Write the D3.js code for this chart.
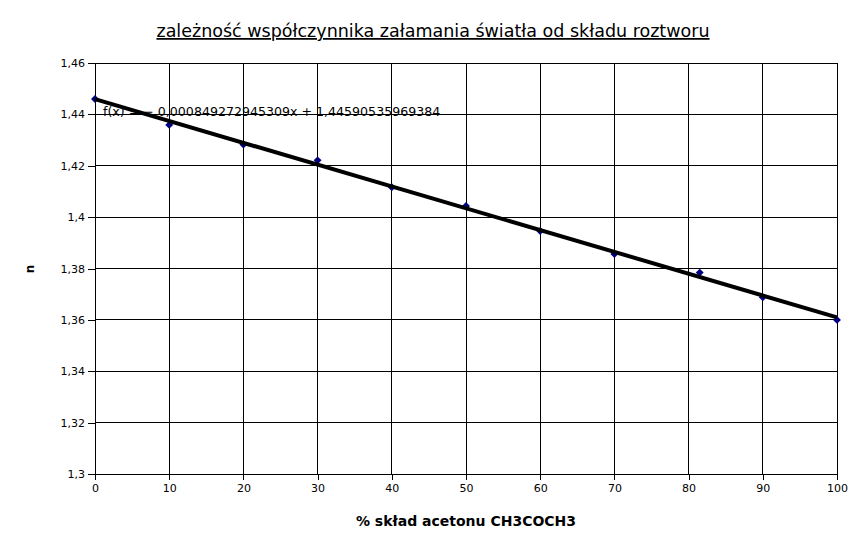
<!DOCTYPE html>
<html><head><meta charset="utf-8">
<script src="https://cdn.jsdelivr.net/npm/d3@7"></script>
<style>body{margin:0;background:#fff}svg{display:block}</style>
</head><body>
<svg id="c" width="866" height="548"></svg>
<script>
const xValues = [0, 10, 20, 30, 40, 50, 60, 70, 81.5, 90, 100];
const nValues = [1.4460, 1.4359, 1.4283, 1.4221, 1.4116, 1.4043, 1.3946, 1.3856, 1.3784, 1.3688, 1.3600];
const xTicks = [0, 10, 20, 30, 40, 50, 60, 70, 80, 90, 100];
const yTicks = [1.30, 1.32, 1.34, 1.36, 1.38, 1.40, 1.42, 1.44, 1.46];
const trendSlope = -0.000849272945309;
const trendIntercept = 1.44590535969384;
const titleText = "zależność współczynnika załamania światła od składu roztworu";
const xLabel = "% skład acetonu CH3COCH3";
const yLabel = "n";
const eqText = "f(x) = − 0,000849272945309x + 1,44590535969384";

const svg = d3.select("#c");
const font = "DejaVu Sans, sans-serif";
const L = 95, R = 837, T = 63, B = 474;
const x = d3.scaleLinear().domain([0, 100]).range([L, R]);
const y = d3.scaleLinear().domain([1.30, 1.46]).range([B, T]);
const fmt = d => String(+d.toFixed(2)).replace(".", ",");

// grid
svg.append("g").selectAll("line.v").data(xTicks).join("line")
  .attr("x1", d => x(d)).attr("x2", d => x(d)).attr("y1", T).attr("y2", B)
  .attr("stroke", "#000").attr("stroke-width", 1).attr("shape-rendering", "crispEdges");
svg.append("g").selectAll("line.h").data(yTicks).join("line")
  .attr("x1", L).attr("x2", R).attr("y1", d => y(d)).attr("y2", d => y(d))
  .attr("stroke", "#000").attr("stroke-width", 1).attr("shape-rendering", "crispEdges");

// axes
const xAxis = svg.append("g").attr("transform", `translate(0,${B})`)
  .call(d3.axisBottom(x).tickValues(xTicks).tickSize(6).tickPadding(4).tickFormat(d => d));
const yAxis = svg.append("g").attr("transform", `translate(${L},0)`)
  .call(d3.axisLeft(y).tickValues(yTicks).tickSize(7).tickPadding(3).tickFormat(fmt));
[xAxis, yAxis].forEach(a => {
  a.selectAll("path,line").attr("stroke", "#000").attr("shape-rendering", "crispEdges");
  a.selectAll("text").attr("font-family", font).attr("font-size", 11).attr("fill", "#000");
});

// points
svg.append("g").selectAll("path").data(xValues.map((v, i) => [v, nValues[i]])).join("path")
  .attr("d", d3.symbol().type(d3.symbolDiamond2).size(40))
  .attr("transform", d => `translate(${x(d[0])},${y(d[1])})`)
  .attr("fill", "#000080");

// equation
svg.append("text").attr("x", 103).attr("y", 116)
  .attr("font-family", font).attr("font-size", 12.6).attr("fill", "#000").text(eqText);

// trend line
svg.append("line")
  .attr("x1", x(0)).attr("y1", y(trendIntercept))
  .attr("x2", x(100)).attr("y2", y(trendIntercept + trendSlope * 100))
  .attr("stroke", "#000").attr("stroke-width", 4);

// title
svg.append("text").attr("x", 433).attr("y", 37).attr("text-anchor", "middle")
  .attr("font-family", font).attr("font-size", 17.5).attr("fill", "#000")
  .attr("text-decoration", "underline").text(titleText);

// axis labels
svg.append("text").attr("x", (L + R) / 2).attr("y", 526).attr("text-anchor", "middle")
  .attr("font-family", font).attr("font-size", 14).attr("font-weight", "bold").text(xLabel);
svg.append("text").attr("transform", "translate(34,269) rotate(-90)").attr("text-anchor", "middle")
  .attr("font-family", font).attr("font-size", 12).attr("font-weight", "bold").text(yLabel);
</script>
</body></html>
